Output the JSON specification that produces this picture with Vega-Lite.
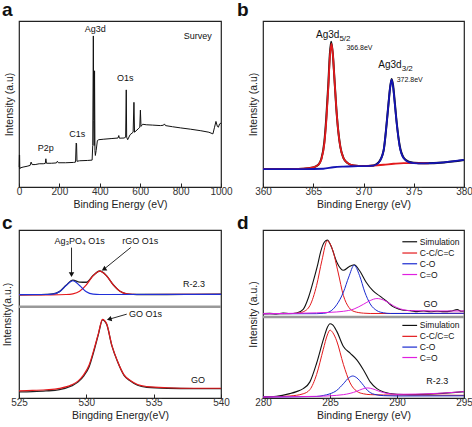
{
  "$schema": "https://vega.github.io/schema/vega-lite/v6.json",
  "background": "white",
  "padding": {"left": 1, "top": 0, "right": 0, "bottom": 0},
  "columns": 2,
  "spacing": {"row": 43, "column": 42},
  "bounds": "flush",
  "datasets": {
    "survey": [
      {"x":1,"y":12},{"x":2,"y":19.3},{"x":3,"y":19},{"x":4,"y":11},{"x":6,"y":11.5},{"x":20,"y":12},{"x":40,"y":12.5},{"x":55,"y":13},{"x":60,"y":15},{"x":65,"y":13.5},{"x":80,"y":13.5},{"x":100,"y":14},{"x":120,"y":14},{"x":130,"y":14.2},{"x":133,"y":17},{"x":136,"y":14.3},{"x":160,"y":14.3},{"x":185,"y":14.5},{"x":190,"y":15.5},{"x":195,"y":14.6},{"x":230,"y":14.6},{"x":270,"y":14.8},{"x":280,"y":15},{"x":283,"y":26.5},{"x":285,"y":26},{"x":287,"y":15.5},{"x":300,"y":15.8},{"x":340,"y":16},{"x":362,"y":16.2},{"x":365,"y":25},{"x":368,"y":91},{"x":370,"y":40},{"x":372,"y":25},{"x":374,"y":70},{"x":376,"y":22},{"x":378,"y":19},{"x":382,"y":22},{"x":388,"y":28},{"x":395,"y":28.5},{"x":420,"y":28.8},{"x":460,"y":29.2},{"x":490,"y":29.5},{"x":494,"y":31},{"x":497,"y":29.4},{"x":520,"y":29.5},{"x":528,"y":30},{"x":531,"y":58.5},{"x":533,"y":30},{"x":538,"y":28.5},{"x":550,"y":31.5},{"x":565,"y":33},{"x":569,"y":51},{"x":572,"y":33},{"x":590,"y":35},{"x":598,"y":36},{"x":601,"y":46.3},{"x":604,"y":36.5},{"x":612,"y":37.8},{"x":630,"y":37.5},{"x":660,"y":37.3},{"x":700,"y":37},{"x":715,"y":37.2},{"x":720,"y":38},{"x":725,"y":37},{"x":760,"y":36.3},{"x":800,"y":35.6},{"x":850,"y":34.8},{"x":900,"y":33.9},{"x":940,"y":33},{"x":960,"y":32},{"x":968,"y":36},{"x":975,"y":39.5},{"x":982,"y":36.5},{"x":987,"y":36},{"x":993,"y":38},{"x":1000,"y":38.5}
    ],
    "a_labels": [
      {"x":378,"y":95,"t":"Ag3d"},{"x":885,"y":91,"t":"Survey"},{"x":526,"y":65.4,"t":"O1s"},{"x":288,"y":32.1,"t":"C1s"},{"x":132,"y":23.4,"t":"P2p"}
    ],
    "b_curves": [
      {"s":"k","x":360,"y":10.8},{"s":"k","x":362,"y":10.8},{"s":"k","x":363.5,"y":10.9},{"s":"k","x":364.5,"y":11.3},{"s":"k","x":365,"y":11.8},{"s":"k","x":365.5,"y":13.4},{"s":"k","x":365.8,"y":16.8},{"s":"k","x":366.1,"y":27},{"s":"k","x":366.3,"y":42},{"s":"k","x":366.5,"y":62},{"s":"k","x":366.65,"y":80},{"s":"k","x":366.78,"y":87.5},{"s":"k","x":366.95,"y":80},{"s":"k","x":367.1,"y":66},{"s":"k","x":367.3,"y":47},{"s":"k","x":367.5,"y":33},{"s":"k","x":367.7,"y":24},{"s":"k","x":368,"y":17.5},{"s":"k","x":368.4,"y":14.5},{"s":"k","x":369,"y":13},{"s":"k","x":370,"y":12.6},{"s":"k","x":371,"y":13},{"s":"k","x":371.5,"y":14.8},{"s":"k","x":372,"y":22},{"s":"k","x":372.3,"y":38},{"s":"k","x":372.5,"y":51},{"s":"k","x":372.65,"y":60},{"s":"k","x":372.8,"y":65},{"s":"k","x":372.95,"y":61},{"s":"k","x":373.1,"y":52},{"s":"k","x":373.3,"y":39},{"s":"k","x":373.6,"y":25},{"s":"k","x":374,"y":17.6},{"s":"k","x":374.5,"y":15.2},{"s":"k","x":375,"y":14.6},{"s":"k","x":376,"y":14.3},{"s":"k","x":378,"y":14.8},{"s":"k","x":380,"y":16.3},
      {"s":"r","x":360,"y":10.8},{"s":"r","x":362,"y":10.8},{"s":"r","x":363.5,"y":10.9},{"s":"r","x":364.5,"y":11.3},{"s":"r","x":365,"y":11.8},{"s":"r","x":365.5,"y":13.4},{"s":"r","x":365.8,"y":16.5},{"s":"r","x":366.1,"y":26},{"s":"r","x":366.3,"y":40},{"s":"r","x":366.5,"y":60},{"s":"r","x":366.65,"y":78},{"s":"r","x":366.8,"y":86.4},{"s":"r","x":366.95,"y":80},{"s":"r","x":367.1,"y":66},{"s":"r","x":367.3,"y":47},{"s":"r","x":367.5,"y":33},{"s":"r","x":367.7,"y":24},{"s":"r","x":368,"y":17.5},{"s":"r","x":368.4,"y":14.5},{"s":"r","x":369,"y":13},{"s":"r","x":370,"y":12.6},{"s":"r","x":371,"y":12.9},{"s":"r","x":372,"y":13.4},{"s":"r","x":373,"y":14},{"s":"r","x":374,"y":14.4},{"s":"r","x":375,"y":14.4},{"s":"r","x":376.5,"y":14.3},
      {"s":"b","x":360,"y":10.8},{"s":"b","x":364,"y":10.8},{"s":"b","x":366,"y":11},{"s":"b","x":367,"y":11.9},{"s":"b","x":368,"y":12.3},{"s":"b","x":369,"y":12.5},{"s":"b","x":370,"y":12.6},{"s":"b","x":371,"y":12.9},{"s":"b","x":371.5,"y":14.6},{"s":"b","x":372,"y":22},{"s":"b","x":372.3,"y":38},{"s":"b","x":372.5,"y":51},{"s":"b","x":372.65,"y":60},{"s":"b","x":372.8,"y":64.6},{"s":"b","x":372.95,"y":60},{"s":"b","x":373.1,"y":51},{"s":"b","x":373.3,"y":38.6},{"s":"b","x":373.6,"y":24.4},{"s":"b","x":374,"y":17.3},{"s":"b","x":374.5,"y":15},{"s":"b","x":375,"y":14.4},{"s":"b","x":376,"y":14.2},{"s":"b","x":378,"y":14.8},{"s":"b","x":380,"y":16.3}
    ],
    "b_labels": [
      {"g":"main","x":367.6,"y":91.5,"t":"Ag3d"},{"g":"sub","x":367.6,"y":89.2,"t":"5/2"},{"g":"note","x":369.6,"y":84.0,"t":"366.8eV"},
      {"g":"main","x":373.8,"y":73.2,"t":"Ag3d"},{"g":"sub","x":373.8,"y":70.9,"t":"3/2"},{"g":"note","x":374.6,"y":64.6,"t":"372.8eV"}
    ],
    "c_curves": [
      {"s":"kt","x":525,"y":61.4},{"s":"kt","x":526,"y":61.5},{"s":"kt","x":527,"y":61.7},{"s":"kt","x":527.5,"y":61.9},{"s":"kt","x":528,"y":63.3},{"s":"kt","x":528.5,"y":67.1},{"s":"kt","x":529,"y":70.2},{"s":"kt","x":529.5,"y":69},{"s":"kt","x":530,"y":68.9},{"s":"kt","x":530.5,"y":72.9},{"s":"kt","x":531,"y":75.6},{"s":"kt","x":531.5,"y":72.8},{"s":"kt","x":532,"y":67.4},{"s":"kt","x":532.5,"y":63.5},{"s":"kt","x":533,"y":62},{"s":"kt","x":533.5,"y":61.7},{"s":"kt","x":534,"y":61.6},{"s":"kt","x":536,"y":61.6},{"s":"kt","x":538,"y":61.7},{"s":"kt","x":540,"y":61.8},
      {"s":"rt","x":525,"y":61.3},{"s":"rt","x":527,"y":61.4},{"s":"rt","x":528.5,"y":61.6},{"s":"rt","x":529,"y":62},{"s":"rt","x":529.5,"y":63.5},{"s":"rt","x":530,"y":67.3},{"s":"rt","x":530.5,"y":72.7},{"s":"rt","x":531,"y":75.5},{"s":"rt","x":531.5,"y":72.7},{"s":"rt","x":532,"y":67.3},{"s":"rt","x":532.5,"y":63.5},{"s":"rt","x":533,"y":62},{"s":"rt","x":533.5,"y":61.7},{"s":"rt","x":534,"y":61.6},{"s":"rt","x":540,"y":61.7},
      {"s":"bt","x":525,"y":61.5},{"s":"bt","x":527,"y":61.6},{"s":"bt","x":527.5,"y":61.8},{"s":"bt","x":528,"y":63.2},{"s":"bt","x":528.5,"y":67},{"s":"bt","x":529,"y":69.8},{"s":"bt","x":529.5,"y":67},{"s":"bt","x":530,"y":63.2},{"s":"bt","x":530.5,"y":61.8},{"s":"bt","x":531,"y":61.6},{"s":"bt","x":540,"y":61.7},
      {"s":"kb","x":525,"y":3.6},{"s":"kb","x":526,"y":3.8},{"s":"kb","x":527,"y":4.2},{"s":"kb","x":528,"y":5},{"s":"kb","x":528.9,"y":7.2},{"s":"kb","x":529.4,"y":9.6},{"s":"kb","x":529.8,"y":13},{"s":"kb","x":530.2,"y":18.5},{"s":"kb","x":530.6,"y":29},{"s":"kb","x":530.9,"y":38},{"s":"kb","x":531.2,"y":46.5},{"s":"kb","x":531.5,"y":44},{"s":"kb","x":531.9,"y":31},{"s":"kb","x":532.3,"y":22},{"s":"kb","x":532.8,"y":13.5},{"s":"kb","x":533.3,"y":10},{"s":"kb","x":533.8,"y":7.6},{"s":"kb","x":534.5,"y":6.4},{"s":"kb","x":536,"y":5.8},{"s":"kb","x":538,"y":5.6},{"s":"kb","x":540,"y":5.6},
      {"s":"rb","x":525,"y":4.3},{"s":"rb","x":526,"y":4.5},{"s":"rb","x":527,"y":4.9},{"s":"rb","x":528,"y":5.7},{"s":"rb","x":528.9,"y":7.8},{"s":"rb","x":529.4,"y":10.2},{"s":"rb","x":529.8,"y":13.8},{"s":"rb","x":530.2,"y":19.5},{"s":"rb","x":530.6,"y":29.8},{"s":"rb","x":530.9,"y":38.5},{"s":"rb","x":531.2,"y":46.8},{"s":"rb","x":531.5,"y":44.3},{"s":"rb","x":531.9,"y":31.2},{"s":"rb","x":532.3,"y":22.2},{"s":"rb","x":532.8,"y":13.8},{"s":"rb","x":533.3,"y":10.3},{"s":"rb","x":533.8,"y":8},{"s":"rb","x":534.5,"y":6.8},{"s":"rb","x":536,"y":6.1},{"s":"rb","x":538,"y":5.8},{"s":"rb","x":540,"y":5.8}
    ],
    "c_labels": [
      {"x":529.5,"y":93.4,"t":"Ag₃PO₄ O1s"},{"x":534.0,"y":93.4,"t":"rGO O1s"},{"x":538.0,"y":67.8,"t":"R-2.3"},{"x":534.4,"y":50.1,"t":"GO O1s"},{"x":538.3,"y":10.5,"t":"GO"}
    ],
    "c_arrows": [
      {"id":"v","x":528.9,"y":89.5,"x2":528.9,"y2":73.4},
      {"id":"r","x":533.3,"y":89.6,"x2":531.3,"y2":76.6},
      {"id":"g","x":533.0,"y":49.9,"x2":531.7,"y2":46.9}
    ],
    "sep_c": [{"y":54.3}],
    "d_curves": [
      {"s":"kt","x":280,"y":50.2},{"s":"kt","x":280.5,"y":50.4},{"s":"kt","x":281,"y":50.1},{"s":"kt","x":281.5,"y":50.5},{"s":"kt","x":282,"y":50.3},{"s":"kt","x":282.5,"y":50.6},{"s":"kt","x":283,"y":52.8},{"s":"kt","x":283.4,"y":60},{"s":"kt","x":283.8,"y":70.9},{"s":"kt","x":284.1,"y":80},{"s":"kt","x":284.3,"y":87},{"s":"kt","x":284.6,"y":93},{"s":"kt","x":284.8,"y":94},{"s":"kt","x":285.1,"y":90},{"s":"kt","x":285.5,"y":81},{"s":"kt","x":285.8,"y":77},{"s":"kt","x":286,"y":76},{"s":"kt","x":286.4,"y":78},{"s":"kt","x":286.8,"y":79.3},{"s":"kt","x":287.2,"y":75.9},{"s":"kt","x":287.7,"y":68.9},{"s":"kt","x":288.2,"y":63.9},{"s":"kt","x":288.7,"y":60.8},{"s":"kt","x":289.2,"y":57.8},{"s":"kt","x":289.7,"y":54.4},{"s":"kt","x":290.2,"y":52.8},{"s":"kt","x":290.5,"y":52.2},{"s":"kt","x":291,"y":52},{"s":"kt","x":291.5,"y":51.4},{"s":"kt","x":292,"y":51.8},{"s":"kt","x":292.5,"y":51.3},{"s":"kt","x":293,"y":51.6},{"s":"kt","x":293.5,"y":51.4},{"s":"kt","x":294,"y":51.7},{"s":"kt","x":294.5,"y":52.6},{"s":"kt","x":294.8,"y":51.6},{"s":"kt","x":295,"y":51.8},
      {"s":"rt","x":280,"y":50.1},{"s":"rt","x":282,"y":50.2},{"s":"rt","x":282.5,"y":50.4},{"s":"rt","x":283,"y":51.3},{"s":"rt","x":283.5,"y":55},{"s":"rt","x":284,"y":67},{"s":"rt","x":284.4,"y":82},{"s":"rt","x":284.8,"y":93.6},{"s":"rt","x":285.2,"y":88},{"s":"rt","x":285.6,"y":75},{"s":"rt","x":286,"y":61},{"s":"rt","x":286.4,"y":54},{"s":"rt","x":286.8,"y":51.5},{"s":"rt","x":287.5,"y":50.5},{"s":"rt","x":288,"y":50.3},{"s":"rt","x":295,"y":50.4},
      {"s":"bt","x":280,"y":50.1},{"s":"bt","x":284,"y":50.2},{"s":"bt","x":284.5,"y":50.4},{"s":"bt","x":285,"y":51.5},{"s":"bt","x":285.5,"y":55.5},{"s":"bt","x":286,"y":63},{"s":"bt","x":286.4,"y":72},{"s":"bt","x":286.8,"y":79},{"s":"bt","x":287.2,"y":73},{"s":"bt","x":287.6,"y":63},{"s":"bt","x":288,"y":56},{"s":"bt","x":288.5,"y":52},{"s":"bt","x":289,"y":50.7},{"s":"bt","x":289.5,"y":50.3},{"s":"bt","x":291,"y":50.3},{"s":"bt","x":295,"y":50.4},
      {"s":"mt","x":280,"y":50.2},{"s":"mt","x":283,"y":50.5},{"s":"mt","x":285,"y":51},{"s":"mt","x":286,"y":51.6},{"s":"mt","x":286.8,"y":53},{"s":"mt","x":287.5,"y":55.8},{"s":"mt","x":288,"y":58},{"s":"mt","x":288.5,"y":59.2},{"s":"mt","x":289,"y":58.3},{"s":"mt","x":289.5,"y":56},{"s":"mt","x":290,"y":53.8},{"s":"mt","x":290.5,"y":52.5},{"s":"mt","x":291,"y":52},{"s":"mt","x":293,"y":51.8},{"s":"mt","x":295,"y":51.8},
      {"s":"kb","x":280,"y":0.6},{"s":"kb","x":281,"y":1},{"s":"kb","x":282,"y":2.6},{"s":"kb","x":282.5,"y":3.8},{"s":"kb","x":283,"y":5.6},{"s":"kb","x":283.5,"y":9.6},{"s":"kb","x":284,"y":20.7},{"s":"kb","x":284.5,"y":34.7},{"s":"kb","x":284.8,"y":42},{"s":"kb","x":285,"y":44.2},{"s":"kb","x":285.2,"y":43.5},{"s":"kb","x":285.5,"y":39.8},{"s":"kb","x":286,"y":30.7},{"s":"kb","x":286.5,"y":26.7},{"s":"kb","x":287,"y":22.7},{"s":"kb","x":287.5,"y":16.7},{"s":"kb","x":288,"y":9.6},{"s":"kb","x":288.5,"y":5.6},{"s":"kb","x":289,"y":3.6},{"s":"kb","x":290,"y":2.2},{"s":"kb","x":291,"y":2},{"s":"kb","x":293,"y":2.6},{"s":"kb","x":295,"y":3.8},
      {"s":"rb","x":280,"y":0.6},{"s":"rb","x":281,"y":0.8},{"s":"rb","x":282,"y":1.2},{"s":"rb","x":283,"y":2.5},{"s":"rb","x":283.5,"y":5},{"s":"rb","x":284,"y":14},{"s":"rb","x":284.5,"y":29},{"s":"rb","x":284.8,"y":37.5},{"s":"rb","x":285,"y":40.4},{"s":"rb","x":285.2,"y":39},{"s":"rb","x":285.5,"y":34},{"s":"rb","x":286,"y":20},{"s":"rb","x":286.5,"y":9},{"s":"rb","x":287,"y":4},{"s":"rb","x":287.5,"y":2.5},{"s":"rb","x":288,"y":2},{"s":"rb","x":289,"y":1.8},{"s":"rb","x":295,"y":1.6},
      {"s":"bb","x":280,"y":0.6},{"s":"bb","x":284,"y":0.9},{"s":"bb","x":284.5,"y":1.5},{"s":"bb","x":285,"y":2.5},{"s":"bb","x":285.5,"y":4.5},{"s":"bb","x":286,"y":8.5},{"s":"bb","x":286.4,"y":12},{"s":"bb","x":286.7,"y":13.1},{"s":"bb","x":287,"y":12},{"s":"bb","x":287.4,"y":8.5},{"s":"bb","x":287.8,"y":4.5},{"s":"bb","x":288.3,"y":2.2},{"s":"bb","x":289,"y":1.4},{"s":"bb","x":290,"y":1.2},{"s":"bb","x":295,"y":1.3},
      {"s":"mb","x":280,"y":0.6},{"s":"mb","x":284,"y":1},{"s":"mb","x":286,"y":2},{"s":"mb","x":287,"y":4},{"s":"mb","x":287.4,"y":5.3},{"s":"mb","x":287.8,"y":6},{"s":"mb","x":288.2,"y":5.4},{"s":"mb","x":288.6,"y":4.2},{"s":"mb","x":289.2,"y":2.8},{"s":"mb","x":290,"y":2.2},{"s":"mb","x":292,"y":2.4},{"s":"mb","x":295,"y":3.8}
    ],
    "d_legend": [
      {"t":"Simulation","x":290.4,"x2":291.5,"tx":291.7,"y":93.0},
      {"t":"C-C/C=C","x":290.4,"x2":291.5,"tx":291.7,"y":86.3},
      {"t":"C-O","x":290.4,"x2":291.5,"tx":291.7,"y":79.9},
      {"t":"C=O","x":290.4,"x2":291.5,"tx":291.7,"y":73.5},
      {"t":"Simulation","x":290.4,"x2":291.5,"tx":291.7,"y":43.2},
      {"t":"C-C/C=C","x":290.4,"x2":291.5,"tx":291.7,"y":36.7},
      {"t":"C-O","x":290.4,"x2":291.5,"tx":291.7,"y":30.3},
      {"t":"C=O","x":290.4,"x2":291.5,"tx":291.7,"y":24.1}
    ],
    "d_labels": [
      {"x":292.5,"y":55.8,"t":"GO"},{"x":293.0,"y":10.2,"t":"R-2.3"}
    ],
    "sep_d": [{"y":48.2}]
  },
  "concat": [
    {
      "width": 202, "height": 166,
      "title": {"text": "a", "dx": -17},
      "layer": [
        {
          "data": {"name": "survey"},
          "mark": {"type": "line", "color": "#111", "strokeWidth": 1},
          "encoding": {
            "x": {"field": "x", "type": "quantitative", "scale": {"domain": [0, 1000], "nice": false},
              "axis": {"title": "Binding Energy (eV)", "format": "d", "values": [0,100,200,300,400,500,600,700,800,900,1000],
                "labelExpr": "datum.value % 200 === 0 ? datum.label : ''",
                "tickSize": {"condition": {"test": "datum.value % 200 === 0", "value": -4}, "value": -2}}},
            "y": {"field": "y", "type": "quantitative", "scale": {"domain": [0, 100], "nice": false}, "axis": {"title": "Intensity (a.u)"}}
          }
        },
        {
          "data": {"name": "a_labels"},
          "mark": {"type": "text"},
          "encoding": {
            "x": {"field": "x", "type": "quantitative"},
            "y": {"field": "y", "type": "quantitative"},
            "text": {"field": "t"}
          }
        }
      ]
    },
    {
      "width": 201, "height": 166,
      "title": {"text": "b", "dx": -26},
      "layer": [
        {
          "data": {"name": "b_curves"},
          "transform": [{"filter": "datum.s === 'k'"}],
          "mark": {"type": "line", "color": "#111", "strokeWidth": 2, "interpolate": "monotone"},
          "encoding": {
            "x": {"field": "x", "type": "quantitative", "scale": {"domain": [360, 380], "nice": false},
              "axis": {"title": "Binding Energy (eV)", "format": "d", "values": [360,362.5,365,367.5,370,372.5,375,377.5,380],
                "labelExpr": "datum.value % 5 === 0 ? datum.label : ''",
                "tickSize": {"condition": {"test": "datum.value % 5 === 0", "value": -4}, "value": -2}}},
            "y": {"field": "y", "type": "quantitative", "scale": {"domain": [0, 100], "nice": false}, "axis": {"title": "Intensity (a.u)"}}
          }
        },
        {
          "data": {"name": "b_curves"},
          "transform": [{"filter": "datum.s === 'r'"}],
          "mark": {"type": "line", "color": "#e3191c", "strokeWidth": 1.8, "interpolate": "monotone"},
          "encoding": {"x": {"field": "x", "type": "quantitative"}, "y": {"field": "y", "type": "quantitative"}}
        },
        {
          "data": {"name": "b_curves"},
          "transform": [{"filter": "datum.s === 'b'"}],
          "mark": {"type": "line", "color": "#1414b4", "strokeWidth": 1.8, "interpolate": "monotone"},
          "encoding": {"x": {"field": "x", "type": "quantitative"}, "y": {"field": "y", "type": "quantitative"}}
        },
        {
          "data": {"name": "b_labels"},
          "transform": [{"filter": "datum.g === 'main'"}],
          "mark": {"type": "text", "fontSize": 10, "align": "right"},
          "encoding": {"x": {"field": "x", "type": "quantitative"}, "y": {"field": "y", "type": "quantitative"}, "text": {"field": "t"}}
        },
        {
          "data": {"name": "b_labels"},
          "transform": [{"filter": "datum.g === 'sub'"}],
          "mark": {"type": "text", "fontSize": 8, "align": "left"},
          "encoding": {"x": {"field": "x", "type": "quantitative"}, "y": {"field": "y", "type": "quantitative"}, "text": {"field": "t"}}
        },
        {
          "data": {"name": "b_labels"},
          "transform": [{"filter": "datum.g === 'note'"}],
          "mark": {"type": "text", "fontSize": 7},
          "encoding": {"x": {"field": "x", "type": "quantitative"}, "y": {"field": "y", "type": "quantitative"}, "text": {"field": "t"}}
        }
      ]
    },
    {
      "width": 202, "height": 168,
      "title": {"text": "c", "dx": -17, "offset": -3},
      "layer": [
        {
          "data": {"name": "sep_c"},
          "mark": {"type": "rule", "color": "#999", "strokeWidth": 2.5},
          "encoding": {"y": {"field": "y", "type": "quantitative", "scale": {"domain": [0, 100], "nice": false}, "axis": {"title": "Intensity(a.u.)", "titlePadding": 7}}}
        },
        {
          "data": {"name": "c_curves"},
          "transform": [{"filter": "datum.s === 'kt' || datum.s === 'kb'"}],
          "mark": {"type": "line", "color": "#222", "strokeWidth": 1.3, "interpolate": "monotone"},
          "encoding": {
            "x": {"field": "x", "type": "quantitative", "scale": {"domain": [525, 540], "nice": false},
              "axis": {"title": "Bingding Energy(eV)", "format": "d", "values": [525,527.5,530,532.5,535,537.5,540],
                "labelExpr": "datum.value % 5 === 0 ? datum.label : ''",
                "tickSize": {"condition": {"test": "datum.value % 5 === 0", "value": -4}, "value": -2}}},
            "y": {"field": "y", "type": "quantitative"},
            "detail": {"field": "s"}
          }
        },
        {
          "data": {"name": "c_curves"},
          "transform": [{"filter": "datum.s === 'rt' || datum.s === 'rb'"}],
          "mark": {"type": "line", "color": "#e3191c", "strokeWidth": 1.2, "interpolate": "monotone"},
          "encoding": {"x": {"field": "x", "type": "quantitative"}, "y": {"field": "y", "type": "quantitative"}, "detail": {"field": "s"}}
        },
        {
          "data": {"name": "c_curves"},
          "transform": [{"filter": "datum.s === 'bt'"}],
          "mark": {"type": "line", "color": "#2030d8", "strokeWidth": 1.2, "interpolate": "monotone"},
          "encoding": {"x": {"field": "x", "type": "quantitative"}, "y": {"field": "y", "type": "quantitative"}}
        },
        {
          "data": {"name": "c_arrows"},
          "mark": {"type": "rule", "color": "#111", "strokeWidth": 0.9},
          "encoding": {"x": {"field": "x", "type": "quantitative"}, "y": {"field": "y", "type": "quantitative"}, "x2": {"field": "x2"}, "y2": {"field": "y2"}}
        },
        {
          "data": {"name": "c_arrows"},
          "transform": [{"filter": "datum.id === 'v'"}],
          "mark": {"type": "point", "shape": "triangle-down", "filled": true, "color": "#111", "size": 30, "opacity": 1},
          "encoding": {"x": {"field": "x2", "type": "quantitative"}, "y": {"field": "y2", "type": "quantitative"}}
        },
        {
          "data": {"name": "c_arrows"},
          "transform": [{"filter": "datum.id === 'r'"}],
          "mark": {"type": "point", "shape": "triangle-up", "angle": 238, "filled": true, "color": "#111", "size": 30, "opacity": 1},
          "encoding": {"x": {"field": "x2", "type": "quantitative"}, "y": {"field": "y2", "type": "quantitative"}}
        },
        {
          "data": {"name": "c_arrows"},
          "transform": [{"filter": "datum.id === 'g'"}],
          "mark": {"type": "point", "shape": "triangle-up", "angle": 255, "filled": true, "color": "#111", "size": 30, "opacity": 1},
          "encoding": {"x": {"field": "x2", "type": "quantitative"}, "y": {"field": "y2", "type": "quantitative"}}
        },
        {
          "data": {"name": "c_labels"},
          "mark": {"type": "text"},
          "encoding": {"x": {"field": "x", "type": "quantitative"}, "y": {"field": "y", "type": "quantitative"}, "text": {"field": "t"}}
        }
      ]
    },
    {
      "width": 201, "height": 168,
      "title": {"text": "d", "dx": -26, "offset": -3},
      "layer": [
        {
          "data": {"name": "sep_d"},
          "mark": {"type": "rule", "color": "#999", "strokeWidth": 2.5},
          "encoding": {"y": {"field": "y", "type": "quantitative", "scale": {"domain": [0, 100], "nice": false}, "axis": {"title": "Intensity (a.u.)"}}}
        },
        {
          "data": {"name": "d_curves"},
          "transform": [{"filter": "datum.s === 'kt' || datum.s === 'kb'"}],
          "mark": {"type": "line", "color": "#111", "strokeWidth": 1.1, "interpolate": "monotone"},
          "encoding": {
            "x": {"field": "x", "type": "quantitative", "scale": {"domain": [280, 295], "nice": false},
              "axis": {"title": "Binding Energy (eV)", "format": "d", "values": [280,282.5,285,287.5,290,292.5,295],
                "labelExpr": "datum.value % 5 === 0 ? datum.label : ''",
                "tickSize": {"condition": {"test": "datum.value % 5 === 0", "value": -4}, "value": -2}}},
            "y": {"field": "y", "type": "quantitative"},
            "detail": {"field": "s"}
          }
        },
        {
          "data": {"name": "d_curves"},
          "transform": [{"filter": "datum.s === 'rt' || datum.s === 'rb'"}],
          "mark": {"type": "line", "color": "#e3191c", "strokeWidth": 1, "interpolate": "monotone"},
          "encoding": {"x": {"field": "x", "type": "quantitative"}, "y": {"field": "y", "type": "quantitative"}, "detail": {"field": "s"}}
        },
        {
          "data": {"name": "d_curves"},
          "transform": [{"filter": "datum.s === 'bt' || datum.s === 'bb'"}],
          "mark": {"type": "line", "color": "#1a2ad0", "strokeWidth": 1, "interpolate": "monotone"},
          "encoding": {"x": {"field": "x", "type": "quantitative"}, "y": {"field": "y", "type": "quantitative"}, "detail": {"field": "s"}}
        },
        {
          "data": {"name": "d_curves"},
          "transform": [{"filter": "datum.s === 'mt' || datum.s === 'mb'"}],
          "mark": {"type": "line", "color": "#e020e0", "strokeWidth": 1, "interpolate": "monotone"},
          "encoding": {"x": {"field": "x", "type": "quantitative"}, "y": {"field": "y", "type": "quantitative"}, "detail": {"field": "s"}}
        },
        {
          "data": {"name": "d_legend"},
          "mark": {"type": "rule", "strokeWidth": 1.2},
          "encoding": {
            "x": {"field": "x", "type": "quantitative"}, "x2": {"field": "x2"},
            "y": {"field": "y", "type": "quantitative"},
            "color": {"field": "t", "type": "nominal", "legend": null,
              "scale": {"domain": ["Simulation", "C-C/C=C", "C-O", "C=O"], "range": ["#111", "#e3191c", "#1a2ad0", "#e020e0"]}}
          }
        },
        {
          "data": {"name": "d_legend"},
          "mark": {"type": "text", "align": "left", "fontSize": 8.5},
          "encoding": {"x": {"field": "tx", "type": "quantitative"}, "y": {"field": "y", "type": "quantitative"}, "text": {"field": "t"}}
        },
        {
          "data": {"name": "d_labels"},
          "mark": {"type": "text"},
          "encoding": {"x": {"field": "x", "type": "quantitative"}, "y": {"field": "y", "type": "quantitative"}, "text": {"field": "t"}}
        }
      ]
    }
  ],
  "config": {
    "view": {"stroke": "#222", "strokeWidth": 1.2, "fill": "white"},
    "font": "Liberation Sans",
    "axis": {"grid": false, "domain": false, "labelFont": "Liberation Sans", "labelFontSize": 10, "labelColor": "#333", "minExtent": 0,
      "titleFont": "Liberation Sans", "titleFontSize": 10.5, "titleFontWeight": "normal", "titleColor": "#222", "tickColor": "#222"},
    "axisX": {"labelPadding": 3, "titlePadding": 3, "labelFlush": false},
    "axisY": {"labels": false, "ticks": false, "titlePadding": 5, "minExtent": 0},
    "title": {"font": "Liberation Sans", "fontSize": 19, "fontWeight": "bold", "anchor": "start", "frame": "group", "color": "#111", "offset": 1},
    "text": {"font": "Liberation Sans", "fontSize": 9, "color": "#111"}
  }
}
